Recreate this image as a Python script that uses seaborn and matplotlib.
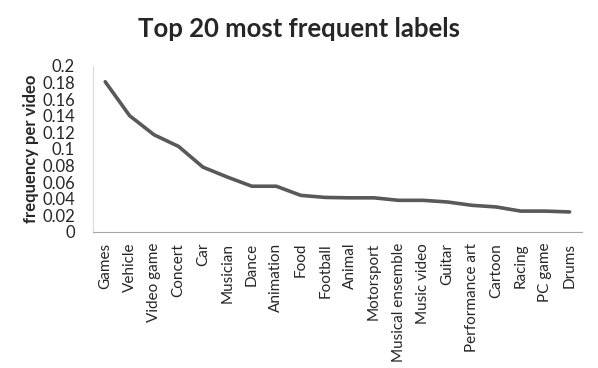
import pandas as pd
import matplotlib.pyplot as plt
import seaborn as sns

# --- Data ---
labels = ["Games", "Vehicle", "Video game", "Concert", "Car", "Musician", "Dance",
          "Animation", "Food", "Football", "Animal", "Motorsport", "Musical ensemble",
          "Music video", "Guitar", "Performance art", "Cartoon", "Racing", "PC game", "Drums"]
freq = [0.181, 0.140, 0.117, 0.103, 0.078, 0.066, 0.055, 0.055, 0.044, 0.0415,
        0.041, 0.041, 0.038, 0.038, 0.036, 0.032, 0.030, 0.025, 0.025, 0.024]
yticks = [0, 0.02, 0.04, 0.06, 0.08, 0.1, 0.12, 0.14, 0.16, 0.18, 0.2]
ytick_labels = ["0", "0.02", "0.04", "0.06", "0.08", "0.1", "0.12", "0.14", "0.16", "0.18", "0.2"]

df = pd.DataFrame({"label": labels, "freq": freq})
df["pos"] = range(len(df))

sns.set_style("white")
plt.rcParams['font.family'] = ['Lato', 'DejaVu Sans']

fig = plt.figure(figsize=(5.98, 3.68), dpi=100)
ax = fig.add_axes([0.1555, 0.370, 0.8175, 0.4507])

sns.lineplot(data=df, x="pos", y="freq", ax=ax, color="#595959", linewidth=2.6)

ax.set_xlim(-0.5, len(labels) - 0.5)
ax.set_ylim(0, 0.2)
ax.set_xticks(df["pos"])
ax.set_xticklabels(labels, rotation=90, fontsize=11, va="top")
ax.set_yticks(yticks)
ax.set_yticklabels(ytick_labels, fontsize=12)
ax.tick_params(axis="x", length=0, pad=8)
ax.tick_params(axis="y", length=0, pad=13)
ax.set_xlabel("")
ax.set_ylabel("frequency per video", fontsize=12, fontweight="bold", labelpad=2)

for s in ["top", "right"]:
    ax.spines[s].set_visible(False)
ax.spines["left"].set_color("#d9d9d9")
ax.spines["bottom"].set_color("#a6a6a6")

fig.suptitle("Top 20 most frequent labels", fontsize=18.5, fontweight="bold", x=0.5, y=0.955)

plt.savefig("out.png", dpi=100)
